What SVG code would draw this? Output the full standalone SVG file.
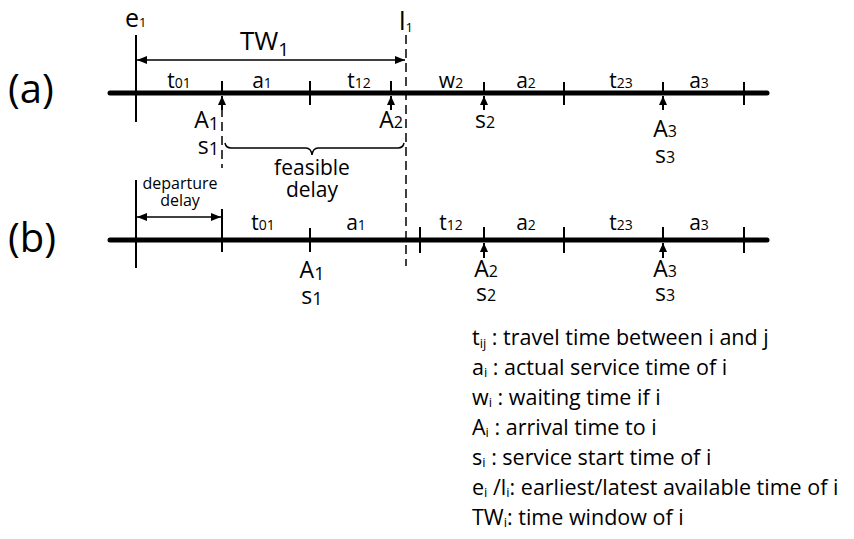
<svg xmlns="http://www.w3.org/2000/svg" width="854" height="539" viewBox="0 0 854 539">
<defs>
<marker id="ah" viewBox="0 0 10 8" refX="10" refY="4" markerWidth="10" markerHeight="8" markerUnits="userSpaceOnUse" orient="auto-start-reverse">
<path d="M0,0 L10,4 L0,8 Z" fill="#000"/>
</marker>
<marker id="up" viewBox="0 0 9 8" refX="9" refY="4" markerWidth="9" markerHeight="8" markerUnits="userSpaceOnUse" orient="auto">
<path d="M0,0 L9,4 L0,8 Z" fill="#000"/>
</marker>
</defs>
<style>
text{font-family:"Open Sans","Noto Sans","DejaVu Sans",sans-serif;fill:#000}
.axis{stroke:#000;stroke-width:5;stroke-linecap:round;fill:none}
.tick{stroke:#000;stroke-width:2;fill:none}
.dash{stroke:#000;stroke-width:1.5;stroke-dasharray:9,5;fill:none}
.dim{stroke:#000;stroke-width:1.5;fill:none}
.lab{font-size:21px}
.sub{font-size:14px}
.big{font-size:40px}
.pt{font-size:23px}
.leg{font-size:21.5px}
.ls{font-size:13px}
</style>
<rect width="854" height="539" fill="#fff"/>

<g id="connectors">
<!-- timeline a -->
<line class="axis" x1="110" y1="93" x2="767" y2="93"/>
<line class="tick" x1="136" y1="35" x2="136" y2="122"/>
<line class="tick" x1="222" y1="81" x2="222" y2="93"/>
<line class="tick" x1="310" y1="81" x2="310" y2="105"/>
<line class="tick" x1="391" y1="81" x2="391" y2="93"/>
<line class="tick" x1="484" y1="82" x2="484" y2="93"/>
<line class="tick" x1="564" y1="82" x2="564" y2="105"/>
<line class="tick" x1="663" y1="82" x2="663" y2="93"/>
<line class="tick" x1="744" y1="82" x2="744" y2="105"/>
<line class="tick" x1="222" y1="110" x2="222" y2="96" marker-end="url(#up)"/>
<line class="tick" x1="391" y1="110" x2="391" y2="96" marker-end="url(#up)"/>
<line class="tick" x1="484" y1="110" x2="484" y2="96" marker-end="url(#up)"/>
<line class="tick" x1="663" y1="110" x2="663" y2="96" marker-end="url(#up)"/>
<line class="dim" x1="137" y1="60" x2="405" y2="60" marker-start="url(#ah)" marker-end="url(#ah)"/>
<line class="dash" x1="406" y1="35" x2="406" y2="266"/>
<line class="dash" x1="222" y1="108" x2="222" y2="168"/>
<path class="dim" d="M225,143 Q226,148 231,148 L306,148 Q311,148 312,155 Q313,148 318,148 L398,148 Q403,148 404,143"/>
<!-- timeline b -->
<line class="axis" x1="110" y1="240" x2="767" y2="240"/>
<line class="tick" x1="136" y1="180" x2="136" y2="268"/>
<line class="tick" x1="222" y1="209" x2="222" y2="252"/>
<line class="tick" x1="310" y1="228" x2="310" y2="252"/>
<line class="tick" x1="420" y1="227" x2="420" y2="253"/>
<line class="tick" x1="484" y1="227" x2="484" y2="240"/>
<line class="tick" x1="564" y1="227" x2="564" y2="253"/>
<line class="tick" x1="663" y1="227" x2="663" y2="240"/>
<line class="tick" x1="744" y1="227" x2="744" y2="253"/>
<line class="tick" x1="484" y1="258" x2="484" y2="243" marker-end="url(#up)"/>
<line class="tick" x1="663" y1="258" x2="663" y2="243" marker-end="url(#up)"/>
<line class="dim" x1="137" y1="217" x2="221" y2="217" marker-start="url(#ah)" marker-end="url(#ah)"/>
</g>

<g id="panel-a-labels">
<text class="big" x="8" y="103">(a)</text>
<text x="125" y="27" font-size="25">e<tspan font-size="13">1</tspan></text>
<text x="240" y="50" font-size="26">TW<tspan font-size="19" dy="6">1</tspan></text>
<text x="399" y="30" font-size="26">l<tspan font-size="13" dy="2">1</tspan></text>
<text class="lab" x="179" y="88" text-anchor="middle">t<tspan class="sub">01</tspan></text>
<text class="lab" x="262" y="88" text-anchor="middle">a<tspan class="sub">1</tspan></text>
<text class="lab" x="359" y="88" text-anchor="middle">t<tspan class="sub">12</tspan></text>
<text class="lab" x="451" y="88" text-anchor="middle">w<tspan class="sub">2</tspan></text>
<text class="lab" x="526" y="88" text-anchor="middle">a<tspan class="sub">2</tspan></text>
<text class="lab" x="621" y="88" text-anchor="middle">t<tspan class="sub">23</tspan></text>
<text class="lab" x="699" y="88" text-anchor="middle">a<tspan class="sub">3</tspan></text>
<text class="pt" text-anchor="end"><tspan x="219" y="128">A<tspan font-size="18" dy="2">1</tspan></tspan><tspan x="219" y="154">s<tspan font-size="18" dy="1">1</tspan></tspan></text>
<text class="pt" x="403" y="128" text-anchor="end">A<tspan font-size="16">2</tspan></text>
<text font-size="21" text-anchor="middle"><tspan x="312" y="175">feasible</tspan><tspan x="312" y="197">delay</tspan></text>
<text class="pt" x="485" y="128" text-anchor="middle">s<tspan font-size="16">2</tspan></text>
<text class="pt" text-anchor="middle"><tspan x="665" y="137">A<tspan font-size="16">3</tspan></tspan><tspan x="665" y="163">s<tspan font-size="16">3</tspan></tspan></text>
</g>

<g id="panel-b-labels">
<text class="big" x="8" y="252">(b)</text>
<text font-size="16" text-anchor="middle"><tspan x="180" y="189">departure</tspan><tspan x="180" y="206">delay</tspan></text>
<text class="lab" x="263" y="230" text-anchor="middle">t<tspan class="sub">01</tspan></text>
<text class="lab" x="356" y="230" text-anchor="middle">a<tspan class="sub">1</tspan></text>
<text class="lab" x="451" y="230" text-anchor="middle">t<tspan class="sub">12</tspan></text>
<text class="lab" x="526" y="230" text-anchor="middle">a<tspan class="sub">2</tspan></text>
<text class="lab" x="621" y="230" text-anchor="middle">t<tspan class="sub">23</tspan></text>
<text class="lab" x="699" y="230" text-anchor="middle">a<tspan class="sub">3</tspan></text>
<text class="pt" text-anchor="middle"><tspan x="312" y="278">A<tspan font-size="18" dy="2">1</tspan></tspan><tspan x="312" y="304">s<tspan font-size="18" dy="1">1</tspan></tspan></text>
<text class="pt" text-anchor="middle"><tspan x="486" y="277">A<tspan font-size="16">2</tspan></tspan><tspan x="486" y="301">s<tspan font-size="16">2</tspan></tspan></text>
<text class="pt" text-anchor="middle"><tspan x="665" y="277">A<tspan font-size="16">3</tspan></tspan><tspan x="665" y="301">s<tspan font-size="16">3</tspan></tspan></text>
</g>

<g id="legend">
<text class="leg" x="472" y="345">t<tspan class="ls" dy="3">ij</tspan><tspan dy="-3"> : travel time between i and j</tspan></text>
<text class="leg" x="472" y="375">a<tspan class="ls" dy="2">i</tspan><tspan dy="-2"> : actual service time of i</tspan></text>
<text class="leg" x="472" y="405">w<tspan class="ls" dy="2">i</tspan><tspan dy="-2"> : waiting time if i</tspan></text>
<text class="leg" x="472" y="435">A<tspan class="ls" dy="2">i</tspan><tspan dy="-2"> : arrival time to i</tspan></text>
<text class="leg" x="472" y="465">s<tspan class="ls" dy="2">i</tspan><tspan dy="-2">  : service start time of i</tspan></text>
<text class="leg" x="472" y="495">e<tspan class="ls" dy="2">i</tspan><tspan dy="-2"> /l</tspan><tspan class="ls" dy="2">i</tspan><tspan dy="-2">: earliest/latest available time of i</tspan></text>
<text class="leg" x="472" y="525">TW<tspan class="ls" dy="2">i</tspan><tspan dy="-2">: time window of i</tspan></text>
</g>
</svg>
